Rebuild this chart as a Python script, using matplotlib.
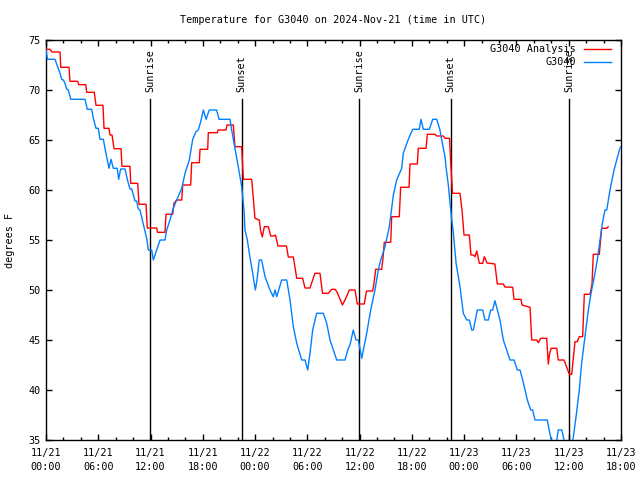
import matplotlib
matplotlib.use("Agg")
import matplotlib.pyplot as plt
from matplotlib.ticker import MultipleLocator

# ---- data (hours since 2024-11-21 00:00 UTC) ----
analysis_hours = [0.0, 0.46, 0.69, 1.61, 1.69, 2.64, 2.75, 3.64, 3.75, 4.56, 4.67, 5.54, 5.74, 6.54,
                  6.66, 7.23, 7.35, 7.58, 7.81, 8.61, 8.72, 9.64, 9.72, 10.53, 10.67, 11.48, 11.63,
                  12.71, 12.80, 13.66, 13.77, 14.54, 14.69, 15.0, 15.58, 15.69, 16.61, 16.72, 17.60,
                  17.68, 18.56, 18.63, 19.66, 19.74, 20.66, 20.78, 21.50, 21.69, 22.46, 22.65, 23.61,
                  23.99, 24.48, 24.62, 24.83, 25.06, 25.52, 25.79, 26.17, 26.34, 26.63, 27.60, 27.81,
                  28.39, 28.78, 29.46, 29.73, 30.30, 30.53, 30.87, 31.45, 31.74, 32.40, 32.79, 33.17,
                  33.40, 34.03, 34.43, 34.81, 35.47, 35.73, 36.53, 36.79, 37.50, 37.65, 37.84, 38.53,
                  38.68, 38.83, 39.57, 39.68, 40.55, 40.71, 41.67, 41.78, 42.62, 42.73, 43.62, 43.77,
                  44.65, 44.85, 45.60, 45.80, 46.32, 46.45, 46.66, 47.52, 47.75, 47.98, 48.59, 48.78,
                  49.05, 49.24, 49.44, 49.74, 50.13, 50.31, 50.62, 51.53, 51.80, 52.49, 52.68, 53.57,
                  53.72, 54.52, 54.64, 55.56, 55.75, 56.32, 56.51, 56.78, 57.47, 57.66, 57.78, 57.97,
                  58.62, 58.80, 59.46, 59.80, 60.07, 60.34, 60.55, 60.72, 60.98, 61.21, 61.60, 61.79,
                  62.44, 62.67, 62.82, 63.51, 63.78, 64.36, 64.53]
analysis_temps = [74.07, 74.07, 73.8, 73.8, 72.27, 72.27, 70.87, 70.87, 70.53, 70.53, 69.77, 69.77,
                  68.47, 68.47, 66.17, 66.17, 65.5, 65.5, 64.13, 64.13, 62.37, 62.37, 60.67, 60.67,
                  58.57, 58.57, 56.2, 56.2, 55.77, 55.77, 57.57, 57.57, 58.67, 59.0, 59.0, 60.5, 60.5,
                  62.73, 62.73, 64.07, 64.07, 65.73, 65.73, 66.0, 66.0, 66.5, 66.5, 64.33, 64.33,
                  61.07, 61.07, 57.17, 57.0, 56.0, 55.3, 56.33, 56.33, 55.4, 55.4, 55.5, 54.4, 54.4,
                  53.3, 53.3, 51.17, 51.17, 50.2, 50.2, 50.8, 51.67, 51.67, 49.67, 49.67, 50.07, 50.07,
                  49.8, 48.5, 49.2, 50.0, 50.0, 48.6, 48.6, 49.9, 49.9, 50.67, 52.07, 52.07, 53.17,
                  54.77, 54.77, 57.33, 57.33, 60.27, 60.27, 62.6, 62.6, 64.17, 64.17, 65.57, 65.57,
                  65.4, 65.4, 65.17, 65.17, 62.83, 59.67, 59.67, 58.0, 55.5, 55.5, 53.5, 53.5, 53.33,
                  53.9, 52.67, 52.67, 53.33, 52.7, 52.6, 50.6, 50.6, 50.3, 50.27, 49.07, 49.07, 48.5,
                  48.27, 45.0, 45.0, 44.73, 45.17, 45.17, 42.6, 43.5, 44.17, 44.17, 43.0, 43.0, 42.2,
                  41.57, 41.57, 43.33, 44.83, 44.83, 45.33, 45.33, 49.57, 49.57, 50.57, 53.57, 53.57,
                  56.17, 56.17, 56.33]

obs_hours = [0.0, 0.17, 1.03, 1.41, 1.61, 1.80, 1.99, 2.18, 2.38, 2.56, 2.84, 4.48, 4.74, 5.25, 5.43,
             5.74, 6.0, 6.20, 6.58, 6.77, 7.08, 7.23, 7.46, 7.73, 8.18, 8.34, 8.57, 9.07, 9.35, 9.64,
             9.84, 10.22, 10.41, 10.59, 10.79, 11.10, 11.56, 11.74, 12.13, 12.32, 12.51, 12.71, 13.09,
             13.66, 13.85, 14.23, 14.61, 15.0, 15.58, 15.96, 16.45, 16.84, 17.22, 17.48, 17.76, 18.06,
             18.37, 18.74, 19.59, 19.86, 21.12, 21.31, 21.69, 22.07, 22.46, 22.73, 22.84, 23.11,
             23.40, 23.73, 24.03, 24.22, 24.48, 24.75, 25.14, 25.71, 26.09, 26.29, 26.48, 27.05,
             27.63, 28.01, 28.39, 28.78, 29.35, 29.73, 30.04, 30.30, 30.61, 31.07, 31.83, 32.22,
             32.60, 33.37, 34.32, 34.70, 34.89, 35.27, 35.58, 35.85, 36.24, 36.81, 37.27, 37.76,
             38.14, 38.42, 38.91, 39.41, 39.87, 40.25, 40.83, 41.01, 41.59, 42.09, 42.85, 43.04,
             43.31, 44.0, 44.39, 44.85, 45.22, 45.53, 45.80, 45.91, 46.18, 46.49, 46.76, 47.07,
             47.52, 47.90, 48.29, 48.59, 48.87, 49.05, 49.51, 50.13, 50.39, 50.77, 51.04, 51.27,
             51.53, 52.11, 52.49, 52.88, 53.26, 53.72, 54.10, 54.41, 54.72, 55.25, 55.64, 55.86,
             56.13, 57.54, 57.80, 58.14, 58.54, 58.80, 59.20, 59.46, 59.69, 60.26, 60.53, 60.84,
             61.21, 61.48, 61.87, 62.25, 62.56, 62.94, 63.28, 63.59, 63.86, 64.16, 64.36, 64.74,
             65.20, 65.81, 65.95]
obs_temps = [74.0, 73.07, 73.07, 72.17, 71.67, 71.07, 71.0, 70.67, 70.07, 70.0, 69.07, 69.07, 68.07,
             68.07, 67.17, 66.17, 66.17, 65.07, 65.07, 64.17, 62.83, 62.17, 63.07, 62.17, 62.17,
             61.07, 62.1, 62.1, 61.0, 60.1, 60.1, 58.9, 58.9, 58.1, 58.0, 56.83, 55.17, 54.0, 54.0,
             53.0, 53.5, 54.0, 55.0, 55.0, 56.0, 57.0, 58.17, 59.0, 60.17, 61.67, 63.0, 65.07,
             65.83, 66.0, 66.83, 68.0, 67.07, 68.0, 68.0, 67.07, 67.07, 66.0, 64.17, 62.33, 60.33,
             58.0, 56.0, 55.0, 53.33, 51.67, 50.0, 51.0, 53.0, 53.0, 51.33, 50.0, 49.33, 50.0,
             49.33, 51.0, 51.0, 49.0, 46.33, 44.67, 43.0, 43.0, 42.0, 43.67, 46.0, 47.67, 47.67,
             46.67, 45.0, 43.0, 43.0, 44.17, 44.5, 46.0, 45.0, 45.0, 43.17, 45.67, 48.0, 50.0,
             52.0, 53.0, 54.33, 56.33, 59.5, 61.0, 62.17, 63.67, 65.07, 66.07, 66.07, 67.07, 66.07,
             66.07, 67.07, 67.07, 66.0, 64.5, 63.33, 62.33, 60.5, 57.67, 55.67, 52.67, 50.33,
             47.67, 47.0, 47.0, 46.0, 46.0, 48.0, 48.0, 47.0, 47.0, 48.0, 48.0, 48.93, 47.0, 45.0,
             44.0, 43.0, 43.0, 42.0, 42.0, 41.0, 39.0, 38.0, 38.0, 37.0, 37.0, 35.8, 34.5, 34.5,
             36.0, 36.0, 35.0, 34.0, 34.0, 35.3, 37.33, 40.0, 42.67, 45.33, 48.0, 49.67, 51.33,
             53.0, 55.0, 56.67, 58.0, 58.0, 60.0, 62.0, 64.0, 64.3]

sun_event_hours = [11.97, 22.45, 35.98, 46.45, 60.02]
sun_event_labels = ["Sunrise", "Sunset", "Sunrise", "Sunset", "Sunrise"]

xtick_hours = [0, 6, 12, 18, 24, 30, 36, 42, 48, 54, 60, 66]
xtick_labels = ["11/21\n00:00", "11/21\n06:00", "11/21\n12:00", "11/21\n18:00",
                "11/22\n00:00", "11/22\n06:00", "11/22\n12:00", "11/22\n18:00",
                "11/23\n00:00", "11/23\n06:00", "11/23\n12:00", "11/23\n18:00"]
ytick_values = [35, 40, 45, 50, 55, 60, 65, 70, 75]

series_names = ["G3040 Analysis", "G3040"]
series_colors = ["#ff0000", "#0080ff"]

FONT = "DejaVu Sans Mono"
FS = 7.3
plt.rcParams['font.family'] = [FONT]

fig = plt.figure(figsize=(6.4, 4.8), dpi=100)
ax = fig.add_axes([46/640, 40/480, 575/640, 400/480])

ax.plot(analysis_hours, analysis_temps, color=series_colors[0], lw=1.0, zorder=3)
ax.plot(obs_hours, obs_temps, color=series_colors[1], lw=1.0, zorder=3)

ax.set_xlim(0, 66)
ax.set_ylim(35, 75)

# sunrise / sunset markers
label_bottom = 69.8
line_top = 69.1
for h, lab in zip(sun_event_hours, sun_event_labels):
    ax.plot([h, h], [35, line_top], color="black", lw=1.0, zorder=2)
    ax.text(h, label_bottom, lab, rotation=90, ha="center", va="bottom",
            fontsize=FS, family=FONT, zorder=4)

ax.set_xticks(xtick_hours)
ax.set_xticklabels(xtick_labels)
ax.xaxis.set_minor_locator(MultipleLocator(2))
ax.set_yticks(ytick_values)
for t in ax.get_xticklabels():
    t.set_linespacing(1.45)

ax.tick_params(which="both", direction="in", top=True, right=True, labelsize=FS, width=1.0)
ax.tick_params(which="major", length=4.0)
ax.tick_params(which="minor", length=2.5)
ax.tick_params(axis="x", which="major", pad=6)
ax.tick_params(axis="y", which="major", pad=4)

for s in ax.spines.values():
    s.set_linewidth(1.0)
    s.set_color("black")

# legend (right-aligned labels, samples on the right)
leg_y = [0.977, 0.945]
for name, col, yy in zip(series_names, series_colors, leg_y):
    ax.text(530/575, yy, name, transform=ax.transAxes, ha="right", va="center",
            fontsize=FS, family=FONT, zorder=5)
    ax.plot([538/575, 565/575], [yy, yy], transform=ax.transAxes, color=col, lw=1.0,
            clip_on=False, zorder=5)

fig.text(333/640, 1 - 20/480, "Temperature for G3040 on 2024-Nov-21 (time in UTC)",
         ha="center", va="center", fontsize=FS, family=FONT)
fig.text(10/640, 0.5, "degrees F", rotation=90, ha="center", va="center",
         fontsize=FS, family=FONT)

fig.savefig("out.png", dpi=100)
